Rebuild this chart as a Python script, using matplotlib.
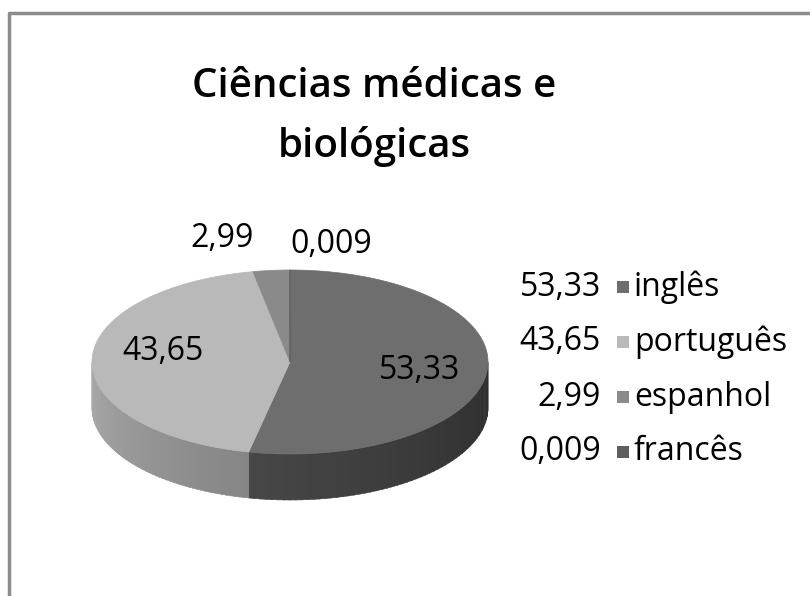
import numpy as np
import matplotlib
matplotlib.use("Agg")
import matplotlib.pyplot as plt
from matplotlib.patches import Polygon, Rectangle
from matplotlib.colors import to_rgb

# data
languages = ["inglês", "português", "espanhol", "francês"]
shares = [53.33, 43.65, 2.99, 0.009]
top_colors = ["#6e6e6e", "#b9b9b9", "#8a8a8a", "#5e5e5e"]
# side gradient (colour at start angle, colour at end angle)
side_colors = [("#2d2d2d", "#474747"), ("#858585", "#a9a9a9"),
               ("#7a7a7a", "#7a7a7a"), ("#444444", "#444444")]
title = "Ciências médicas e\nbiológicas"

plt.rcParams["font.family"] = ["Open Sans", "DejaVu Sans"]

fig = plt.figure(figsize=(8.1, 5.96), dpi=100)
ax = fig.add_axes([0, 0, 1, 1])
ax.set_xlim(0, 810)
ax.set_ylim(596, 0)
ax.axis("off")

# frame of the chart area
ax.plot([9, 9, 812], [600, 13, 13], color="#8c8c8c", lw=2.5, solid_capstyle="butt")

ax.text(374, 117, title, ha="center", va="center", fontsize=29,
        fontweight="semibold", linespacing=1.6)

# 3-D pie geometry
cx, cy, rx, ry, depth = 290, 362, 198, 92, 46


def pt(theta, dy=0.0):
    t = np.radians(theta)
    return cx + rx * np.sin(t), cy - ry * np.cos(t) + dy


total = sum(shares)
angles = np.cumsum([0] + [s / total * 360 for s in shares])

# sides (front half only: 90..270 deg clockwise from top)
for i in range(len(shares)):
    a0, a1 = max(angles[i], 90), min(angles[i + 1], 270)
    if a1 <= a0:
        continue
    c0, c1 = np.array(to_rgb(side_colors[i][0])), np.array(to_rgb(side_colors[i][1]))
    steps = np.linspace(a0, a1, 60)
    for k in range(len(steps) - 1):
        s0, s1 = steps[k], min(steps[k + 1] + 0.3, a1)
        arc = np.linspace(s0, s1, 3)
        top = [pt(a) for a in arc]
        bot = [pt(a, depth) for a in arc[::-1]]
        f = (k + 0.5) / (len(steps) - 1)
        col = c0 + (c1 - c0) * f
        ax.add_patch(Polygon(top + bot, closed=True, fc=col, ec=col, lw=0.4))

# top faces
for i in range(len(shares)):
    arc = np.linspace(angles[i], angles[i + 1], 200)
    verts = [(cx, cy)] + [pt(a) for a in arc]
    ax.add_patch(Polygon(verts, closed=True, fc=top_colors[i], ec=top_colors[i], lw=0.5))

# data labels
label_pos = [0.68, 0.63, 1.45, 1.30]
label_shift = [(-4, 2), (-2, -10), (-41, 9), (41, 2)]
for i, v in enumerate(shares):
    mid = (angles[i] + angles[i + 1]) / 2
    x, y = pt(mid)
    x = cx + (x - cx) * label_pos[i] + label_shift[i][0]
    y = cy + (y - cy) * label_pos[i] + label_shift[i][1]
    ax.text(x, y, str(v).replace(".", ","), ha="center", va="center", fontsize=23)

# legend
for i, (name, v) in enumerate(zip(languages, shares)):
    y = 287 + i * 55
    ax.text(601, y, str(v).replace(".", ","), ha="right", va="center", fontsize=23)
    ax.add_patch(Rectangle((617, y - 6), 12, 12, fc=top_colors[i], ec="none"))
    ax.text(634, y, name, ha="left", va="center", fontsize=23)

fig.savefig("out.png", dpi=100)
